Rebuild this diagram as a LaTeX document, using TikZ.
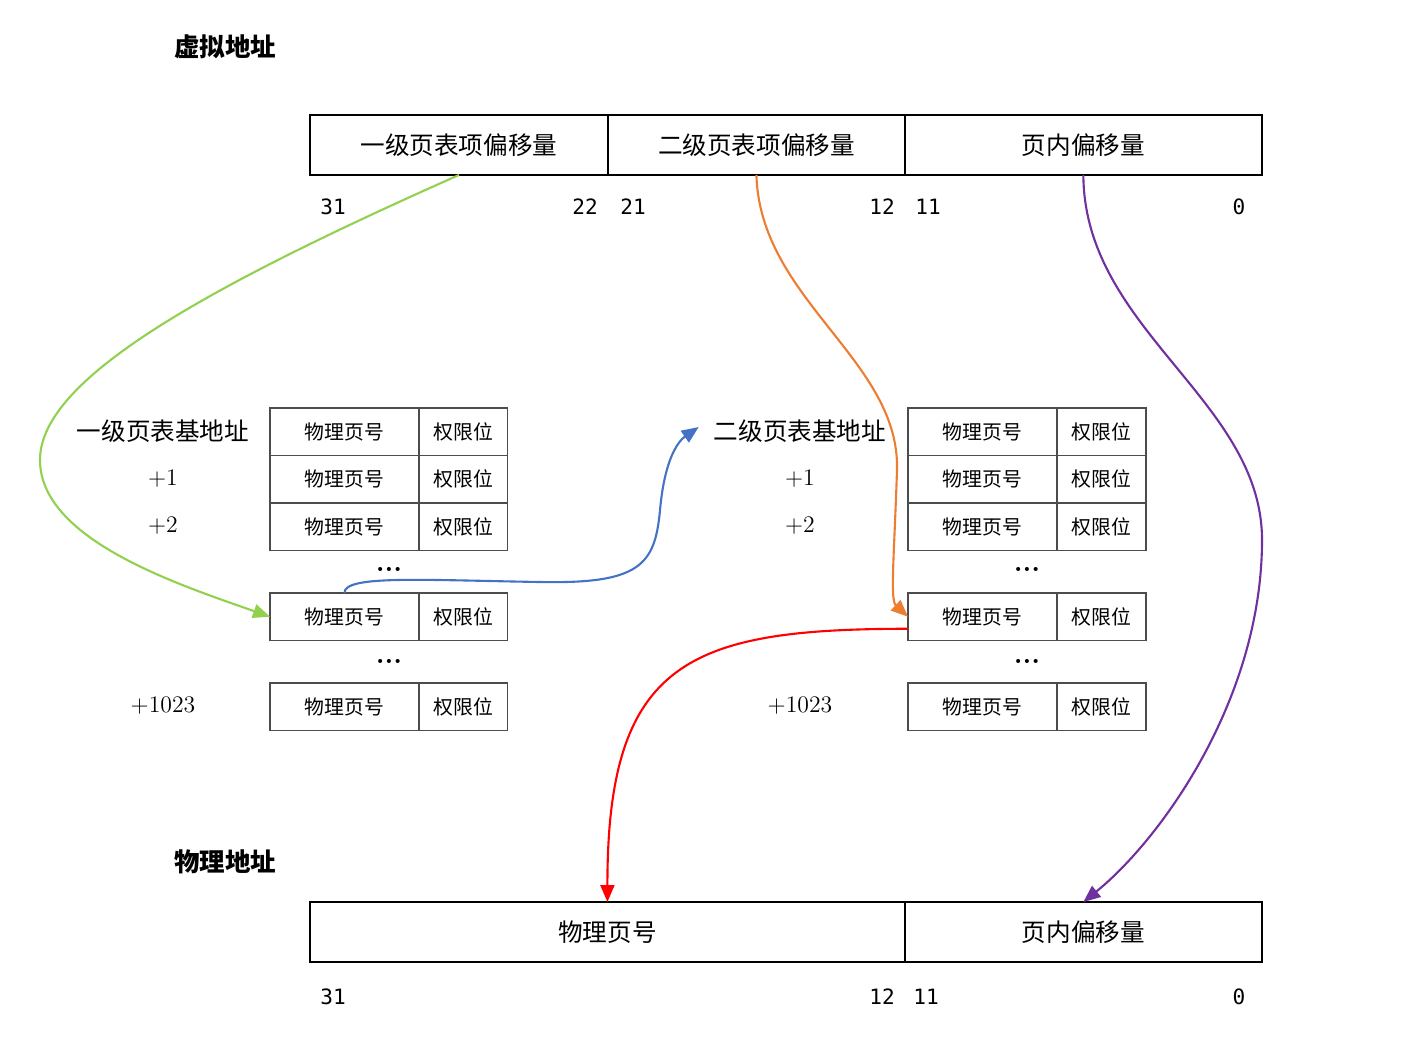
\documentclass[tikz,border=0pt]{standalone}
\usepackage{fontspec}
\newfontfamily\cjk{Noto Sans CJK SC}
\newfontfamily\bitfont{DejaVu Sans Mono}
\usetikzlibrary{arrows.meta, positioning, calc}
\definecolor{vert}{HTML}{92D050}
\definecolor{orange}{HTML}{ED7D31}
\definecolor{bleu}{HTML}{4472C4}
\definecolor{rouge}{HTML}{FF0000}
\definecolor{violet}{HTML}{7030A0}
\tikzset{
  champ/.style={rectangle, draw=black, line width=1.1pt, minimum height=1.2cm,
    inner sep=0pt, outer sep=0pt, font=\cjk\fontsize{14}{16}\selectfont},
  cellule/.style={rectangle, draw=black!70, line width=0.6pt, minimum height=0.95cm,
    inner sep=0pt, outer sep=0pt, font=\cjk\fontsize{11.3}{13}\selectfont},
  ppn/.style={cellule, minimum width=2.98cm},
  droits/.style={cellule, minimum width=1.78cm},
  base/.style={font=\cjk\fontsize{14}{16}\selectfont},
  decal/.style={font=\fontsize{13.5}{15}\selectfont},
  titre/.style={font=\cjk\bfseries\fontsize{14.5}{16}\selectfont},
  bit/.style={font=\bitfont\fontsize{12}{14}\selectfont},
  points/.style={font=\bfseries\fontsize{16}{18}\selectfont, inner sep=1pt},
  fleche/.style={-{Triangle[length=3.4mm, width=2.8mm]}, line width=1.2pt}
}
\begin{document}
\begin{tikzpicture}[x=0.02cm, y=-0.02cm]
    \useasboundingbox (0,0) rectangle (1408,1048);

    % adresse virtuelle
    \node[titre] (va) at (225,47) {虚拟地址};
    \node[champ, minimum width=5.96cm, anchor=north west] (idx1) at (310,115) {一级页表项偏移量};
    \node[champ, minimum width=5.94cm, right=0pt of idx1] (idx2) {二级页表项偏移量};
    \node[champ, minimum width=7.14cm, right=0pt of idx2] (voff) {页内偏移量};

    \node[bit] (v31) at (333,207) {31};
    \node[bit] (v22) at (585,207) {22};
    \node[bit] (v21) at (633,207) {21};
    \node[bit] (v12) at (882,207) {12};
    \node[bit] (v11) at (928,207) {11};
    \node[bit] (v0) at (1239,207) {0};

    % table de premier niveau
    \node[base] (base1) at (163,431) {一级页表基地址};
    \node[decal] (p1a) at (163,479) {+1};
    \node[decal] (p2a) at (163,526) {+2};
    \node[decal] (p1023a) at (163,706) {+1023};

    \node[ppn, anchor=north west] (a0) at (270,408) {物理页号};
    \node[droits, right=0pt of a0] (a0d) {权限位};
    \node[ppn, below=0pt of a0] (a1) {物理页号};
    \node[droits, right=0pt of a1] (a1d) {权限位};
    \node[ppn, below=0pt of a1] (a2) {物理页号};
    \node[droits, right=0pt of a2] (a2d) {权限位};
    \node[points] (adots1) at (389,569) {...};
    \node[ppn, anchor=north west] (ax) at (270,593) {物理页号};
    \node[droits, right=0pt of ax] (axd) {权限位};
    \node[points] (adots2) at (389,661) {...};
    \node[ppn, anchor=north west] (an) at (270,683) {物理页号};
    \node[droits, right=0pt of an] (and) {权限位};

    % table de second niveau
    \node[base] (base2) at (800,431) {二级页表基地址};
    \node[decal] (p1b) at (800,479) {+1};
    \node[decal] (p2b) at (800,526) {+2};
    \node[decal] (p1023b) at (800,706) {+1023};

    \node[ppn, anchor=north west] (b0) at (908,408) {物理页号};
    \node[droits, right=0pt of b0] (b0d) {权限位};
    \node[ppn, below=0pt of b0] (b1) {物理页号};
    \node[droits, right=0pt of b1] (b1d) {权限位};
    \node[ppn, below=0pt of b1] (b2) {物理页号};
    \node[droits, right=0pt of b2] (b2d) {权限位};
    \node[points] (bdots1) at (1027,569) {...};
    \node[ppn, anchor=north west] (bx) at (908,593) {物理页号};
    \node[droits, right=0pt of bx] (bxd) {权限位};
    \node[points] (bdots2) at (1027,661) {...};
    \node[ppn, anchor=north west] (bn) at (908,683) {物理页号};
    \node[droits, right=0pt of bn] (bnd) {权限位};

    % adresse physique
    \node[titre] (pa) at (225,862) {物理地址};
    \node[champ, minimum width=11.9cm, anchor=north west] (pfn) at (310,902) {物理页号};
    \node[champ, minimum width=7.14cm, right=0pt of pfn] (poff) {页内偏移量};

    \node[bit] (p31) at (333,997) {31};
    \node[bit] (p12) at (882,997) {12};
    \node[bit] (p11) at (926,997) {11};
    \node[bit] (p0) at (1239,997) {0};

    % liens
    \draw[fleche, vert] (idx1.south) .. controls (200,290) and (40,380) .. (40,460)
      .. controls (40,540) and (180,585) .. (ax.west);
    \draw[fleche, bleu] (ax.north) .. controls (344,575) and (420,580) .. (540,582)
      .. controls (640,584) and (655,565) .. (660,510)
      .. controls (665,455) and (680,440) .. ($(base2.west)+(-9,-4)$);
    \draw[fleche, orange] (idx2.south) .. controls (760,300) and (900,360) .. (897,470)
      .. controls (894,560) and (890,600) .. (bx.west);
    \draw[fleche, rouge] ($(bx.west)+(0,12)$) .. controls (690,629) and (607,660) .. (pfn.north);
    \draw[fleche, violet] (voff.south) .. controls (1084,330) and (1262,400) .. (1262,540)
      .. controls (1262,700) and (1160,840) .. (poff.north);
  \end{tikzpicture}
\end{document}
